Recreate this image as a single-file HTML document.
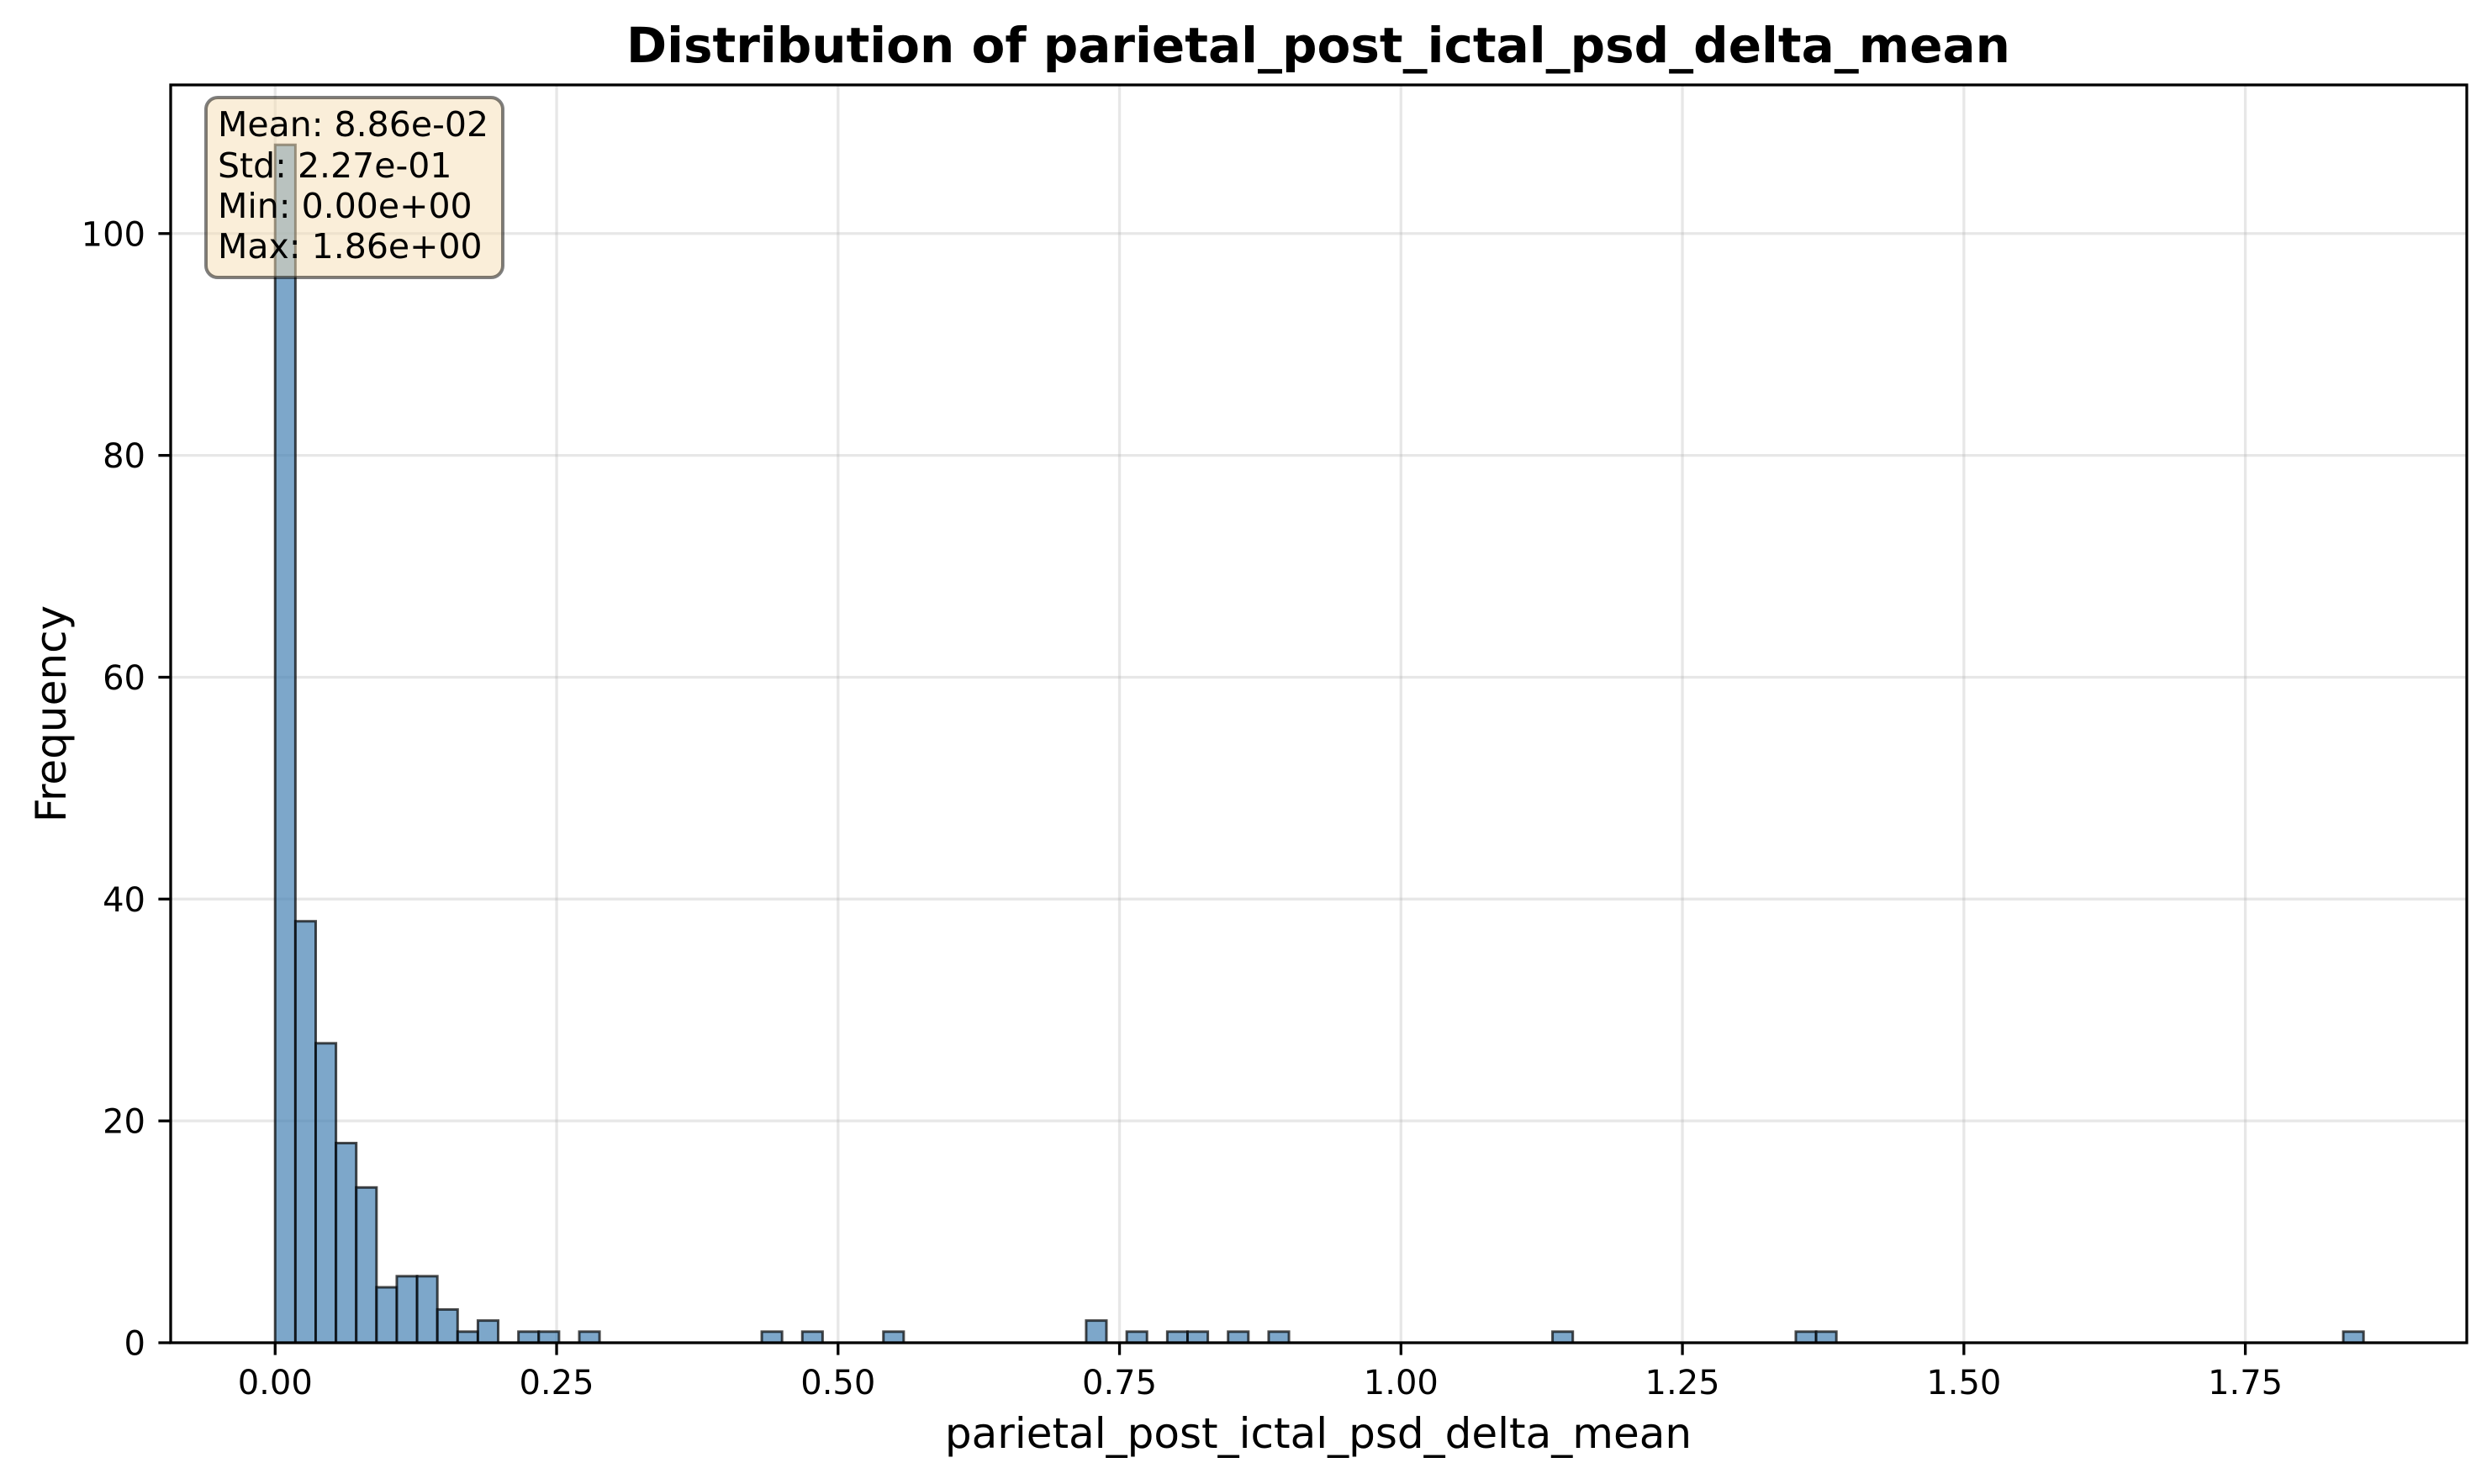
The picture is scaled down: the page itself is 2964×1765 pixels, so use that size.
<!DOCTYPE html>
<html><head><meta charset="utf-8"><style>
html,body{margin:0;padding:0;background:#fff;}
svg{display:block;font-family:"DejaVu Sans","Liberation Sans",sans-serif;}
</style></head><body>
<svg id="chart" width="2964" height="1765" viewBox="0 0 2964 1765">
<rect x="0" y="0" width="2964" height="1765" fill="#fff"/>
<g id="grid"></g>
<g id="bars"></g>
<g id="axes"></g>
<text x="1568" y="74" text-anchor="middle" font-size="58" font-weight="bold">Distribution of parietal_post_ictal_psd_delta_mean</text>
<text x="1568" y="1722" text-anchor="middle" font-size="50">parietal_post_ictal_psd_delta_mean</text>
<text x="0" y="0" transform="translate(78,849) rotate(-90)" text-anchor="middle" font-size="50">Frequency</text>
<g>
<rect x="245" y="116" width="353" height="214" rx="14" fill="#f5deb3" fill-opacity="0.5" stroke="#000" stroke-opacity="0.5" stroke-width="4"/>
<text x="259" y="162" font-size="41">Mean: 8.86e-02</text>
<text x="259" y="211" font-size="41">Std: 2.27e-01</text>
<text x="259" y="259" font-size="41">Min: 0.00e+00</text>
<text x="259" y="307" font-size="41">Max: 1.86e+00</text>
</g>
</svg>
<script>
const binIndices = [0,1,2,3,4,5,6,7,8,9,10,12,13,15,24,26,30,40,42,44,45,47,49,63,75,76,102];
const binCounts  = [108,38,27,18,14,5,6,6,3,1,2,1,1,1,1,1,1,2,1,1,1,1,1,1,1,1,1];
const binMin = 0;
const binMax = 1.855;
const binTotal = 103;
const xTicks = [0,0.25,0.5,0.75,1.0,1.25,1.5,1.75];
const xTickLabels = ["0.00","0.25","0.50","0.75","1.00","1.25","1.50","1.75"];
const yTicks = [0,20,40,60,80,100];

const L=203,R=2934,T=101,B=1597;
const xMin=-0.0928,xMax=1.9467,yMax=113.4;
const X=v=>L+(v-xMin)/(xMax-xMin)*(R-L);
const Y=v=>B-v/yMax*(B-T);
const NS="http://www.w3.org/2000/svg";
function mk(tag,attrs,parent){const e=document.createElementNS(NS,tag);for(const k in attrs)e.setAttribute(k,attrs[k]);parent.appendChild(e);return e;}
const grid=document.getElementById('grid'),bars=document.getElementById('bars'),axes=document.getElementById('axes');

xTicks.forEach((t,i)=>{
  const g=mk('line',{x1:X(t),x2:X(t),y1:T,y2:B,stroke:'#b0b0b0','stroke-opacity':0.3,'stroke-width':3.3},grid);
  
  
  const tk=mk('line',{x1:X(t),x2:X(t),y1:B,y2:B+14.6,stroke:'#000','stroke-width':3.3},axes);
  
  
  const tx=mk('text',{x:X(t),y:1658,'text-anchor':'middle','font-size':40},axes);
  tx.textContent=xTickLabels[i];
  
  
});
yTicks.forEach(t=>{
  const g=mk('line',{x1:L,x2:R,y1:Y(t),y2:Y(t),stroke:'#b0b0b0','stroke-opacity':0.3,'stroke-width':3.3},grid);
  
  
  const tk=mk('line',{x1:L-14.6,x2:L,y1:Y(t),y2:Y(t),stroke:'#000','stroke-width':3.3},axes);
  
  
  const tx=mk('text',{x:173,y:Y(t)+14.5,'text-anchor':'end','font-size':40},axes);
  tx.textContent=String(t);
  
  
});
const w=(binMax-binMin)/binTotal;
binIndices.forEach((b,i)=>{
  const x0=X(binMin+b*w),x1=X(binMin+(b+1)*w),y=Y(binCounts[i]);
  const r=mk('rect',{x:x0,y:y,width:x1-x0,height:B-y,fill:'#4682b4','fill-opacity':0.7,stroke:'#000','stroke-opacity':0.7,'stroke-width':3},bars);
  
  
});
const fr=mk('rect',{x:L,y:T,width:R-L,height:B-T,fill:'none',stroke:'#000','stroke-width':3.3},axes);


</script>
</body></html>
